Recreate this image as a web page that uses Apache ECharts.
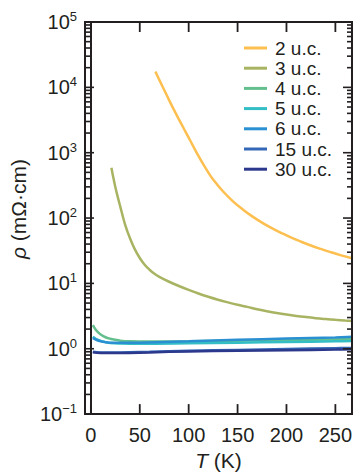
<!DOCTYPE html>
<html>
<head>
<meta charset="utf-8">
<script src="https://cdn.jsdelivr.net/npm/echarts@6/dist/echarts.min.js"></script>
<style>
  html, body { margin: 0; padding: 0; background: #fff; overflow: hidden; }
  #chart { width: 356px; height: 476px; }
</style>
</head>
<body>
<div id="chart"></div>
<script>
// Resistivity vs temperature for films of different thickness (unit cells)
const seriesNames = ['2 u.c.', '3 u.c.', '4 u.c.', '5 u.c.', '6 u.c.', '15 u.c.', '30 u.c.'];
const seriesColors = ['#fdbf4f', '#a9b462', '#63bf8d', '#33bec6', '#2a90d2', '#3467b5', '#2c388c'];

// [T (K), rho (mOhm cm)]
const uc2 = [[66,17400],[70,13000],[75,9120],[80,6380],[85,4520],[90,3240],[95,2344],[100,1700],
  [105,1230],[110,891],[115,661],[120,501],[125,389],[135,257],[145,182],[155,136.5],[165,106],
  [175,85.1],[185,70.0],[195,58.9],[205,50.1],[215,43.4],[225,38.0],[235,33.7],[245,30.1],
  [255,27.1],[268,24.0]];
const uc3 = [[21,589],[23,412],[25,299],[27,224],[30,151],[35,79.4],[40,49],[45,33.1],[50,24.5],
  [55,19.3],[60,16.2],[65,14.1],[70,12.6],[80,10.6],[90,9.12],[100,7.94],[110,7.0],[120,6.24],
  [130,5.62],[140,5.13],[150,4.71],[160,4.37],[170,4.03],[180,3.76],[190,3.53],[200,3.34],
  [210,3.18],[220,3.05],[230,2.94],[240,2.85],[250,2.77],[260,2.70],[268,2.65]];
const uc4 = [[2,2.29],[5,1.95],[8,1.75],[10,1.65],[15,1.50],[20,1.42],[25,1.37],[30,1.33],
  [40,1.30],[60,1.29],[100,1.30],[150,1.33],[200,1.36],[250,1.39],[268,1.40]];
const uc5 = [[2,1.52],[5,1.42],[10,1.32],[15,1.26],[20,1.22],[30,1.20],[50,1.19],[100,1.21],
  [150,1.24],[200,1.27],[250,1.30],[268,1.31]];
const uc6 = [[2,1.45],[5,1.38],[10,1.30],[15,1.26],[20,1.24],[30,1.23],[50,1.24],[100,1.30],
  [150,1.37],[200,1.43],[250,1.49],[268,1.52]];
const uc15 = [[2,0.90],[10,0.88],[30,0.88],[60,0.90],[100,0.93],[150,0.96],[200,0.99],
  [250,1.02],[268,1.03]];
const uc30 = [[2,0.88],[10,0.86],[30,0.86],[60,0.88],[100,0.91],[150,0.93],[200,0.95],
  [250,0.97],[268,0.98]];
const seriesData = [uc2, uc3, uc4, uc5, uc6, uc15, uc30];

// Axis ranges and tick positions
const X_MIN = -6, X_MAX = 267, Y_MIN = 0.1, Y_MAX = 100000;
const xTicks = [0, 50, 100, 150, 200, 250];
const yDecades = [0.1, 1, 10, 100, 1000, 10000, 100000];
const yMinor = [];
for (let k = 0; k < yDecades.length - 1; k++) {
  for (let m = 2; m <= 9; m++) yMinor.push(+(m * yDecades[k]).toPrecision(3));
}

const FONT = '"Liberation Sans", Arial, Helvetica, sans-serif';
const INK = '#231f20';
const MAJOR_LEN = 9, MINOR_LEN = 5;

const chart = echarts.init(document.getElementById('chart'), null, { renderer: 'svg' });

const lineSeries = seriesNames.map(function (name, i) {
  return {
    name: name, type: 'line',
    data: seriesData[i], smooth: 0.4, showSymbol: false, symbol: 'none',
    color: seriesColors[i],
    lineStyle: { width: 2.5, color: seriesColors[i] }
  };
});

// Frame corners taken from the axis scales
function frame(api) {
  const bl = api.coord([X_MIN, Y_MIN]);
  const tr = api.coord([X_MAX, Y_MAX]);
  return { left: bl[0], bottom: bl[1], right: tr[0], top: tr[1] };
}

// Plot frame plus inward ticks along the bottom and top edges
const xTickSeries = {
  type: 'custom', name: 'xticks', silent: true, clip: false, z: 20,
  data: xTicks.map(function (t) { return [t, 1]; }),
  renderItem: function (params, api) {
    const f = frame(api);
    const px = api.coord([api.value(0), 1])[0];
    const st = { stroke: INK, lineWidth: 1.8 };
    const children = [
      { type: 'line', shape: { x1: px, y1: f.bottom, x2: px, y2: f.bottom - 10 }, style: st },
      { type: 'line', shape: { x1: px, y1: f.top, x2: px, y2: f.top + 10 }, style: st }
    ];
    if (params.dataIndex === 0) {
      children.push({ type: 'rect',
        shape: { x: f.left, y: f.top, width: f.right - f.left, height: f.bottom - f.top },
        style: { fill: 'none', stroke: INK, lineWidth: 2 } });
    }
    return { type: 'group', children: children };
  }
};
// Inward decade and minor ticks along the left and right edges
const yTickSeries = {
  type: 'custom', name: 'yticks', silent: true, clip: false, z: 20,
  data: yDecades.map(function (v) { return [0, v, MAJOR_LEN]; })
    .concat(yMinor.map(function (v) { return [0, v, MINOR_LEN]; })),
  renderItem: function (params, api) {
    const f = frame(api);
    const py = api.coord([0, api.value(1)])[1];
    const len = api.value(2);
    const st = { stroke: INK, lineWidth: 1.6 };
    return { type: 'group', children: [
      { type: 'line', shape: { x1: f.left, y1: py, x2: f.left + len, y2: py }, style: st },
      { type: 'line', shape: { x1: f.right, y1: py, x2: f.right - len, y2: py }, style: st }
    ] };
  }
};

chart.setOption({
  animation: false,
  grid: { left: 85, right: 4, top: 22, bottom: 60, show: false },
  legend: {
    orient: 'vertical', left: 244, top: 38, padding: 0, itemGap: 0.2,
    itemWidth: 23, itemHeight: 3, icon: 'rect',
    data: seriesNames,
    textStyle: { fontSize: 19, fontFamily: FONT, color: INK, lineHeight: 20, padding: [0, 0, 0, 3] }
  },
  xAxis: {
    type: 'value', min: X_MIN, max: X_MAX,
    name: '{i|T} (K)', nameLocation: 'middle', nameGap: 35,
    nameTextStyle: {
      fontSize: 21, fontFamily: FONT, color: INK,
      rich: { i: { fontSize: 21, fontFamily: FONT, fontStyle: 'italic', color: INK } }
    },
    axisLine: { show: true, lineStyle: { color: INK, width: 2 } },
    axisTick: { show: false },
    axisLabel: { show: true, margin: 11, customValues: xTicks, fontSize: 20,
      fontFamily: FONT, color: INK },
    splitLine: { show: false }
  },
  yAxis: {
    type: 'log', logBase: 10, min: Y_MIN, max: Y_MAX,
    name: '{i|\u03c1} (m\u03a9\u00b7cm)', nameLocation: 'middle', nameGap: 50,
    nameTextStyle: {
      fontSize: 21, fontFamily: FONT, color: INK, padding: [0, 0, 0, 18],
      rich: { i: { fontSize: 21, fontFamily: FONT, fontStyle: 'italic', color: INK } }
    },
    axisLine: { show: true, lineStyle: { color: INK, width: 2 } },
    axisTick: { show: false },
    splitLine: { show: false },
    axisLabel: {
      show: true, margin: 8, customValues: yDecades,
      formatter: function (v) {
        const e = Math.round(Math.log10(v));
        return '{b|10}{s|' + (e < 0 ? '\u2212' + (-e) : e) + '}';
      },
      rich: {
        b: { fontSize: 20, fontFamily: FONT, color: INK, lineHeight: 24 },
        s: { fontSize: 13, fontFamily: FONT, color: INK, lineHeight: 13, verticalAlign: 'top' }
      }
    }
  },
  series: lineSeries.concat([xTickSeries, yTickSeries])
});
</script>
</body>
</html>
